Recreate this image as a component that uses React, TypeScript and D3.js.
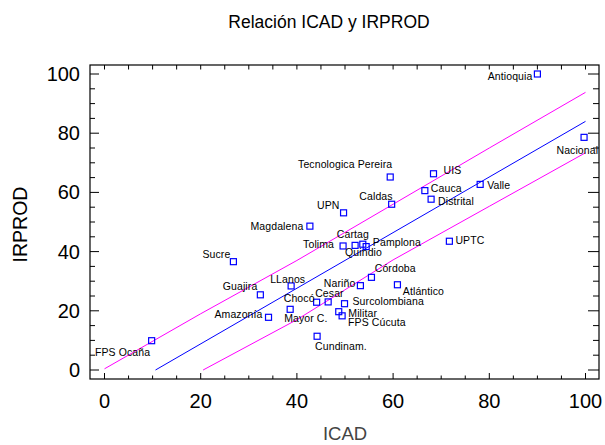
import React from "react";
import * as d3 from "d3";

const names = [
  "Antioquia", "Nacional", "UIS", "Cauca", "Distrital", "Valle", "UPTC",
  "Tecnologica Pereira", "Caldas", "UPN", "Magdalena", "Tolima", "Cartag",
  "Quindio", "Pamplona", "Sucre", "Guajira", "LLanos", "Amazonía", "Mayor C.",
  "Chocó", "Cesar", "Nariño", "Córdoba", "Atlántico", "Surcolombiana",
  "Militar", "FPS Cúcuta", "Cundinam.", "FPS Ocaña",
];
const icad = [
  90, 99.7, 68.4, 66.6, 67.9, 78.1, 71.7, 59.4, 59.7, 49.7, 42.7, 49.6, 52.1,
  53.7, 54.4, 26.8, 32.4, 38.8, 34.1, 38.6, 44.1, 46.5, 53.2, 55.5, 60.9, 49.9,
  48.7, 49.4, 44.2, 9.8,
];
const irprod = [
  100, 78.6, 66.3, 60.6, 57.7, 62.7, 43.5, 65.2, 56.0, 53.1, 48.6, 41.9, 42.1,
  42.5, 41.7, 36.6, 25.4, 28.4, 17.8, 20.5, 22.9, 23.0, 28.5, 31.3, 28.8, 22.4,
  19.7, 18.3, 11.4, 9.9,
];

// fitted line and prediction band
const fitX = [10.6, 100];
const fitY = [0, 84];
const upperX = [0, 20, 40, 60, 80, 100];
const upperY = [0.4, 19, 37, 56, 75, 93.8];
const lowerX = [20.5, 40, 60, 80, 100];
const lowerY = [0, 17, 37.2, 55.3, 73.4];

const xTicks = [0, 20, 40, 60, 80, 100];
const yTicks = [0, 20, 40, 60, 80, 100];

// label placement: [anchor, dx, dy]
const labelPlace: [string, number, number][] = [
  ["end", -5, 5.5], ["start", -27.6, 16.7], ["start", 10, 0], ["start", 6, 1],
  ["start", 7, 6], ["start", 7, 5], ["start", 6, 3], ["end", 2, -9],
  ["end", 1, -4.5], ["end", -4, -3.5], ["end", -6.5, 4], ["end", -9, 2],
  ["start", -18.3, -7], ["start", -17.7, 12], ["start", 6.7, -1],
  ["end", -3, -4], ["end", -3, -4.5], ["start", -21, -3], ["end", -6, 1],
  ["start", -6, 12.5], ["end", -2, -0.5], ["start", -13, -4.7],
  ["end", -5, 1], ["start", 3.3, -5.6], ["start", 5.4, 10], ["start", 8, 1.3],
  ["start", 9.6, 5], ["start", 6, 10.3], ["start", -2, 13.7], ["end", -1.5, 15],
];

const FONT = "'Liberation Sans', Arial, sans-serif";

export default function App() {
  const W = 605, H = 445;
  const x = d3.scaleLinear().domain([0, 100]).range([104.5, 585.5]);
  const y = d3.scaleLinear().domain([0, 100]).range([370, 74]);
  const L = 90, R = 599, T = 65, B = 379;

  const line = d3.line<[number, number]>().x((d) => x(d[0])).y((d) => y(d[1]));
  const fit = line(fitX.map((v, i) => [v, fitY[i]]));
  const up = line(upperX.map((v, i) => [v, upperY[i]]));
  const lo = line(lowerX.map((v, i) => [v, lowerY[i]]));

  const minor = d3.range(0, 101, 5);

  return (
    <svg width={W} height={H} style={{ position: "absolute", left: 0, top: 0, background: "#fff" }} fontFamily={FONT}>
      <rect x={0} y={0} width={W} height={H} fill="#fff" />
      <text x={329} y={28} fontSize={17.5} textAnchor="middle" fill="#000">Relación ICAD y IRPROD</text>

      {/* box */}
      <rect x={L} y={T} width={R - L} height={B - T} fill="none" stroke="#000" strokeWidth={1.2} />

      {/* ticks */}
      {minor.map((v) => {
        const major = v % 20 === 0;
        return (
          <g key={"t" + v} stroke="#000" strokeWidth={1}>
            <line x1={L} x2={L + (major ? 9 : 5)} y1={y(v)} y2={y(v)} />
            <line x1={R} x2={R - (major ? 11 : 6)} y1={y(v)} y2={y(v)} />
            <line x1={x(v)} x2={x(v)} y1={B} y2={B - (major ? 6 : 3.5)} />
            <line x1={x(v)} x2={x(v)} y1={T} y2={T + 4.5} />
          </g>
        );
      })}

      {yTicks.map((v) => (
        <text key={"yl" + v} x={80} y={y(v) + 7} fontSize={20} textAnchor="end" fill="#000">{v}</text>
      ))}
      {xTicks.map((v) => (
        <text key={"xl" + v} x={x(v)} y={408} fontSize={20} textAnchor="middle" fill="#000">{v}</text>
      ))}

      <text x={345} y={440} fontSize={18.5} textAnchor="middle" fill="#444">ICAD</text>
      <text transform="translate(27,224.5) rotate(-90)" fontSize={19.5} textAnchor="middle" fill="#000">IRPROD</text>

      {/* lines */}
      <path d={up ?? ""} fill="none" stroke="#ff00ff" strokeWidth={1} />
      <path d={lo ?? ""} fill="none" stroke="#ff00ff" strokeWidth={1} />
      <path d={fit ?? ""} fill="none" stroke="#0000ff" strokeWidth={1} />

      {/* points */}
      {names.map((n, i) => (
        <rect key={"p" + i} x={x(icad[i]) - 3} y={y(irprod[i]) - 3} width={6} height={6} fill="none" stroke="#0000ff" strokeWidth={1.2} />
      ))}
      {names.map((n, i) => {
        const [a, dx, dy] = labelPlace[i];
        return (
          <text key={"l" + i} x={x(icad[i]) + dx} y={y(irprod[i]) + dy} fontSize={10.5} textAnchor={a} fill="#000" letterSpacing={0.1}>{n}</text>
        );
      })}
    </svg>
  );
}
